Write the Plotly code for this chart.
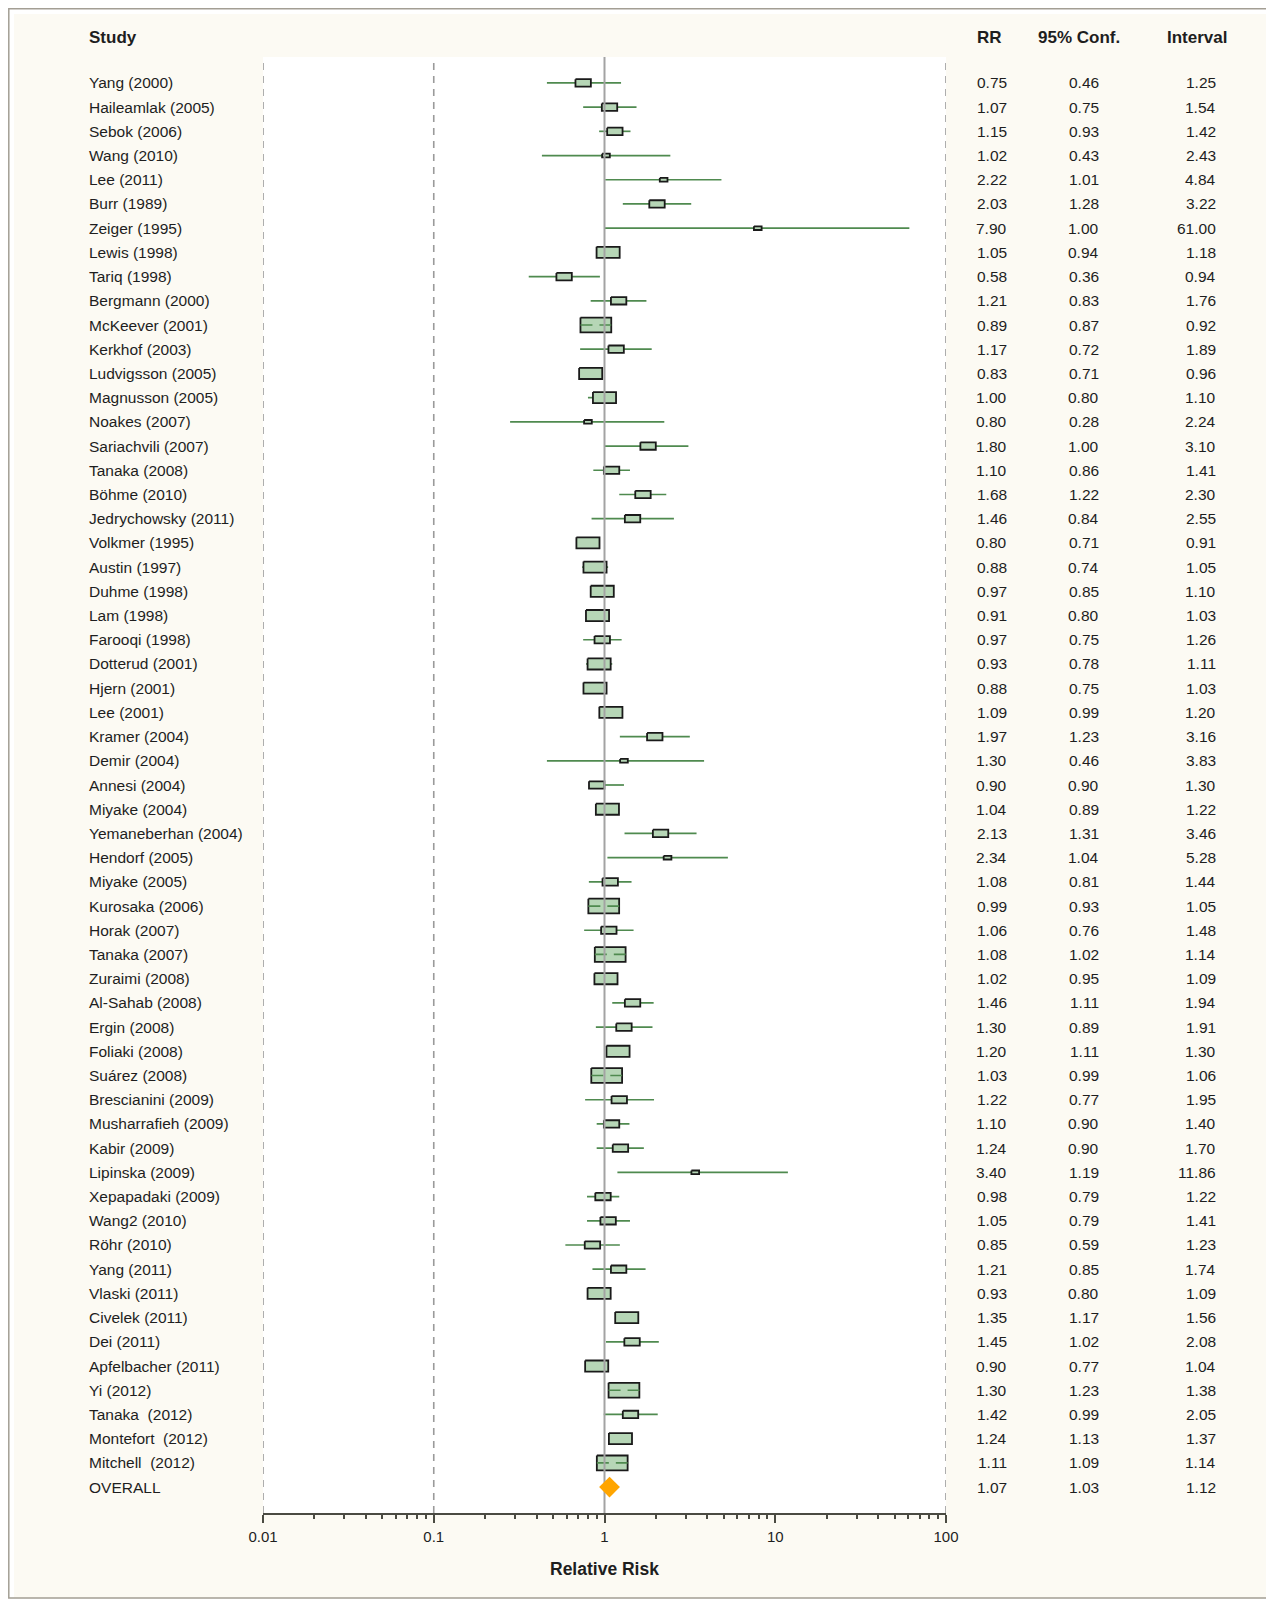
import plotly.graph_objects as go

# ---------------- data ----------------
studies = [
    "Yang (2000)", "Haileamlak (2005)", "Sebok (2006)", "Wang (2010)", "Lee (2011)",
    "Burr (1989)", "Zeiger (1995)", "Lewis (1998)", "Tariq (1998)", "Bergmann (2000)",
    "McKeever (2001)", "Kerkhof (2003)", "Ludvigsson (2005)", "Magnusson (2005)", "Noakes (2007)",
    "Sariachvili (2007)", "Tanaka (2008)", "Böhme (2010)", "Jedrychowsky (2011)", "Volkmer (1995)",
    "Austin (1997)", "Duhme (1998)", "Lam (1998)", "Farooqi (1998)", "Dotterud (2001)",
    "Hjern (2001)", "Lee (2001)", "Kramer (2004)", "Demir (2004)", "Annesi (2004)",
    "Miyake (2004)", "Yemaneberhan (2004)", "Hendorf (2005)", "Miyake (2005)", "Kurosaka (2006)",
    "Horak (2007)", "Tanaka (2007)", "Zuraimi (2008)", "Al-Sahab (2008)", "Ergin (2008)",
    "Foliaki (2008)", "Suárez (2008)", "Brescianini (2009)", "Musharrafieh (2009)", "Kabir (2009)",
    "Lipinska (2009)", "Xepapadaki (2009)", "Wang2 (2010)", "Röhr (2010)", "Yang (2011)",
    "Vlaski (2011)", "Civelek (2011)", "Dei (2011)", "Apfelbacher (2011)", "Yi (2012)",
    "Tanaka  (2012)", "Montefort  (2012)", "Mitchell  (2012)",
]
rr = [
    0.75, 1.07, 1.15, 1.02, 2.22, 2.03, 7.90, 1.05, 0.58, 1.21,
    0.89, 1.17, 0.83, 1.00, 0.80, 1.80, 1.10, 1.68, 1.46, 0.80,
    0.88, 0.97, 0.91, 0.97, 0.93, 0.88, 1.09, 1.97, 1.30, 0.90,
    1.04, 2.13, 2.34, 1.08, 0.99, 1.06, 1.08, 1.02, 1.46, 1.30,
    1.20, 1.03, 1.22, 1.10, 1.24, 3.40, 0.98, 1.05, 0.85, 1.21,
    0.93, 1.35, 1.45, 0.90, 1.30, 1.42, 1.24, 1.11,
]
ci_low = [
    0.46, 0.75, 0.93, 0.43, 1.01, 1.28, 1.00, 0.94, 0.36, 0.83,
    0.87, 0.72, 0.71, 0.80, 0.28, 1.00, 0.86, 1.22, 0.84, 0.71,
    0.74, 0.85, 0.80, 0.75, 0.78, 0.75, 0.99, 1.23, 0.46, 0.90,
    0.89, 1.31, 1.04, 0.81, 0.93, 0.76, 1.02, 0.95, 1.11, 0.89,
    1.11, 0.99, 0.77, 0.90, 0.90, 1.19, 0.79, 0.79, 0.59, 0.85,
    0.80, 1.17, 1.02, 0.77, 1.23, 0.99, 1.13, 1.09,
]
ci_high = [
    1.25, 1.54, 1.42, 2.43, 4.84, 3.22, 61.00, 1.18, 0.94, 1.76,
    0.92, 1.89, 0.96, 1.10, 2.24, 3.10, 1.41, 2.30, 2.55, 0.91,
    1.05, 1.10, 1.03, 1.26, 1.11, 1.03, 1.20, 3.16, 3.83, 1.30,
    1.22, 3.46, 5.28, 1.44, 1.05, 1.48, 1.14, 1.09, 1.94, 1.91,
    1.30, 1.06, 1.95, 1.40, 1.70, 11.86, 1.22, 1.41, 1.23, 1.74,
    1.09, 1.56, 2.08, 1.04, 1.38, 2.05, 1.37, 1.14,
]
# relative study weight (box size class, 1 = smallest)
weight = [
    2, 2, 2, 1, 1, 2, 1, 3, 2, 2,
    4, 2, 3, 3, 1, 2, 2, 2, 2, 3,
    3, 3, 3, 2, 3, 3, 3, 2, 1, 2,
    3, 2, 1, 2, 4, 2, 4, 3, 2, 2,
    3, 4, 2, 2, 2, 1, 2, 2, 2, 2,
    3, 3, 2, 3, 4, 2, 3, 4,
]
overall_label = "OVERALL"
overall_rr = 1.07
overall_low = 1.03
overall_high = 1.12

x_tickvals = [0.01, 0.1, 1, 10, 100]
x_ticktext = ["0.01", "0.1", "1", "10", "100"]
dashed_refs = [0.01, 0.1, 100]
null_value = 1.0
col_headers = ["Study", "RR", "95% Conf.", "Interval"]
x_title = "Relative Risk"

# ---------------- layout geometry ----------------
OFF = 8  # page body margin: figure starts at page (8, 8)
W, H = 1266, 1596
ML = 263 - OFF
MT = 57 - OFF
MR = W - (946 - OFF)
MB = H - (1513 - OFF)
PW, PH = W - ML - MR, H - MT - MB
n_rows = len(studies) + 1
pad = 1.07
px_per_row = PH / (n_rows - 1 + 2 * pad)
px_per_decade = PW / 4.0

FONT = "Liberation Sans, Arial, Helvetica, sans-serif"
TXT = "#1e1e1e"
CI_COL = "#4f8a4f"
BOX_FILL = "#b6d6b6"
BOX_LINE = "#1a1a1a"
AX_COL = "#4a4a42"


def paper_x(page_px):
    return (page_px - OFF - ML) / PW


def paper_y(page_py):
    return (H - MB - (page_py - OFF)) / PH


rows = list(range(len(studies)))
overall_row = len(studies)

# CI lines
ci_x, ci_y = [], []
for i in rows:
    ci_x += [ci_low[i], ci_high[i], None]
    ci_y += [i, i, None]

# boxes (size from weight)
bx, by = [], []
dx_, dy_ = [], []
for i in rows:
    hw = 7.7 * weight[i] / 2 / px_per_decade
    hh = 3.7 * weight[i] / 2 / px_per_row
    f = 10 ** hw
    x0, x1 = rr[i] / f, rr[i] * f
    bx += [x0, x1, x1, x0, x0, None]
    by += [i - hh, i - hh, i + hh, i + hh, i - hh, None]
    if weight[i] >= 4:
        dx_ += [x0, x1, None]
        dy_ += [i, i, None]

fig = go.Figure()
fig.add_trace(go.Scatter(x=ci_x, y=ci_y, mode="lines",
                         line=dict(color=CI_COL, width=1.7), hoverinfo="skip", showlegend=False))
fig.add_trace(go.Scatter(x=bx, y=by, mode="lines", fill="toself", fillcolor=BOX_FILL,
                         line=dict(color=BOX_LINE, width=1.8), hoverinfo="skip", showlegend=False))
fig.add_trace(go.Scatter(x=dx_, y=dy_, mode="lines",
                         line=dict(color=CI_COL, width=1.7, dash="12px,7px"),
                         hoverinfo="skip", showlegend=False))
fig.add_trace(go.Scatter(x=[null_value, null_value], y=[-pad, n_rows - 1 + pad], mode="lines",
                         line=dict(color="#a3a3a3", width=2), hoverinfo="skip", showlegend=False))
fig.add_trace(go.Scatter(x=[overall_rr], y=[overall_row], mode="markers",
                         marker=dict(symbol="diamond", size=16, color="#FFA500", line=dict(width=0)),
                         hoverinfo="skip", showlegend=False))

# dashed reference lines
for v in dashed_refs:
    fig.add_shape(type="line", xref="x", yref="paper", x0=v, x1=v, y0=0, y1=1,
                  line=dict(color="#9a9a9a", width=1.6, dash="7px,6px"), layer="below")

annotations = []
all_labels = studies + [overall_label]
all_rr = rr + [overall_rr]
all_lo = ci_low + [overall_low]
all_hi = ci_high + [overall_high]
for i, lab in enumerate(all_labels):
    annotations.append(dict(x=paper_x(87), y=i, xref="paper", yref="y", text=lab,
                            xanchor="left", yanchor="middle", showarrow=False,
                            font=dict(family=FONT, size=15.5, color=TXT)))
    for val, px in ((all_rr[i], 1009), (all_lo[i], 1101), (all_hi[i], 1218)):
        annotations.append(dict(x=paper_x(px), y=i, xref="paper", yref="y", text=f"{val:.2f}",
                                xanchor="right", yanchor="middle", showarrow=False,
                                font=dict(family=FONT, size=15.5, color=TXT)))

for txt, px in zip(col_headers, (87, 975, 1036, 1165)):
    annotations.append(dict(x=paper_x(px), y=paper_y(37), xref="paper", yref="paper",
                            text=f"<b>{txt}</b>", xanchor="left", yanchor="middle",
                            showarrow=False, font=dict(family=FONT, size=17, color=TXT)))
annotations.append(dict(x=paper_x(604.5), y=paper_y(1569), xref="paper", yref="paper",
                        text=f"<b>{x_title}</b>", xanchor="center", yanchor="middle",
                        showarrow=False, font=dict(family=FONT, size=17.5, color=TXT)))

# outer frame: white edge + grey border
fig.add_shape(type="rect", xref="paper", yref="paper", x0=paper_x(OFF), x1=paper_x(OFF + W),
              y0=paper_y(OFF + H), y1=paper_y(OFF), line=dict(color="white", width=12),
              fillcolor="rgba(0,0,0,0)", layer="above")
fig.add_shape(type="rect", xref="paper", yref="paper", x0=paper_x(OFF + 0.8), x1=paper_x(1271),
              y0=paper_y(1598), y1=paper_y(OFF + 0.8), line=dict(color="#a39e94", width=1.5),
              fillcolor="rgba(0,0,0,0)", layer="above")

minor_vals = [k * 10 ** e for e in range(-2, 2) for k in range(2, 10)]

fig.update_layout(
    width=W, height=H,
    margin=dict(l=ML, r=MR, t=MT, b=MB, autoexpand=False),
    paper_bgcolor="#fcfaf3",
    plot_bgcolor="white",
    showlegend=False,
    annotations=annotations,
    xaxis=dict(type="log", range=[-2, 2], tickmode="array", tickvals=x_tickvals,
               ticktext=x_ticktext, ticks="outside", ticklen=8, tickwidth=2, tickcolor=AX_COL,
               showline=True, linecolor=AX_COL, linewidth=2, showgrid=False, zeroline=False,
               tickfont=dict(family=FONT, size=15, color=TXT), ticklabelstandoff=1,
               minor=dict(tickmode="array", tickvals=minor_vals, ticks="outside", ticklen=4,
                          tickwidth=1.5, tickcolor=AX_COL, showgrid=False),
               fixedrange=True),
    yaxis=dict(range=[n_rows - 1 + pad, -pad], visible=False, showgrid=False,
               zeroline=False, fixedrange=True),
)

fig.write_html("out.html")
